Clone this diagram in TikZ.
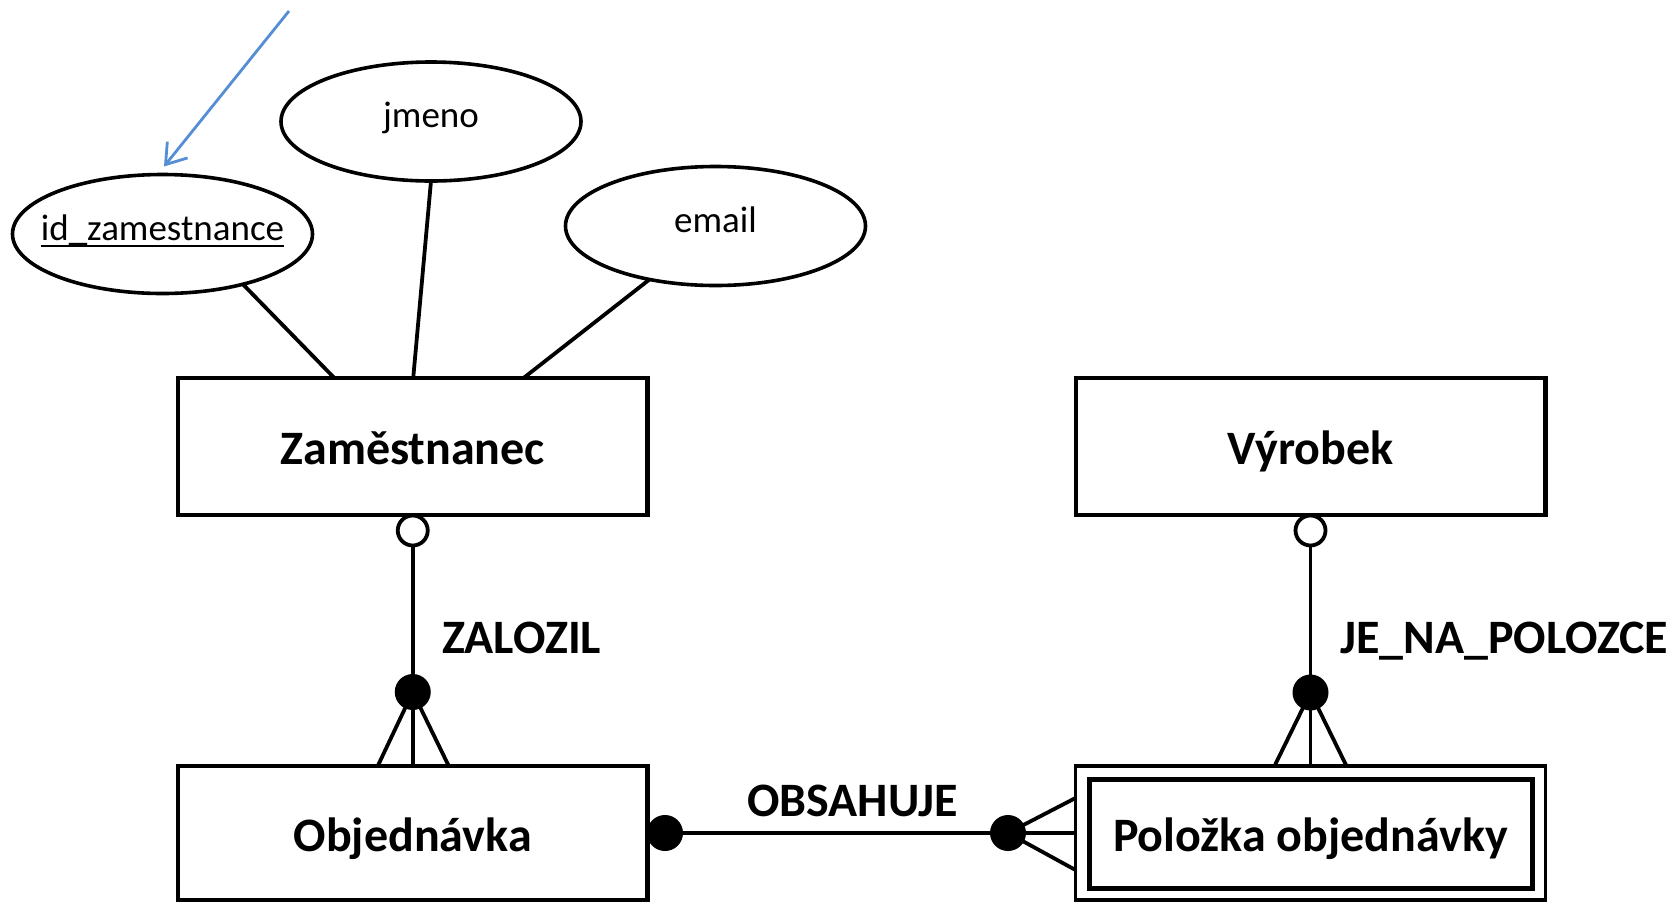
\documentclass[tikz,border=0pt]{standalone}
\usepackage{fontspec}
\setmainfont{Carlito}
\usetikzlibrary{shapes.geometric,arrows.meta,calc}
\definecolor{arrowblue}{RGB}{85,142,213}
\newcommand\ulattr[1]{\setbox0\hbox{#1}\rlap{\rule[-7pt]{\wd0}{2pt}}\box0}
\begin{document}
\begin{tikzpicture}[x=1pt,y=-1pt,
  entity/.style={draw,line width=4.5pt,rectangle,minimum width=469.5pt,minimum height=137pt,inner sep=0pt,outer sep=0pt,font=\fontsize{48}{56}\selectfont\bfseries,text height=36pt,text depth=0pt},
  attr/.style={draw,line width=3.6pt,ellipse,minimum width=300pt,minimum height=119pt,inner sep=0pt,outer sep=0pt,font=\fontsize{37}{44}\selectfont,text height=12pt,text depth=0pt},
  rel/.style={line width=3.8pt},
  rlabel/.style={font=\fontsize{48}{56}\selectfont\bfseries,anchor=base west,inner sep=0pt},
  opencirc/.style={circle,draw,line width=3.8pt,fill=white,minimum size=30pt,inner sep=0pt},
  fullcirc/.style={circle,fill=black,minimum size=36pt,inner sep=0pt},
]
\useasboundingbox (0,0) rectangle (1678,903);

% entities
\node[entity] (zam) at (412.75,446.5) {Zaměstnanec};
\node[entity] (vyr) at (1310.5,446.5) {Výrobek};
\node[entity,minimum height=134pt] (obj) at (412.75,833) {Objednávka};
\node[entity,minimum width=470pt,minimum height=134pt,line width=3.8pt] (pol) at (1310.5,833) {Položka objednávky};
\draw[line width=5pt] ($(pol.north west)+(13.5,13)$) rectangle ($(pol.south east)+(-13,-12)$);

% attributes
\node[attr] (id) at (162.5,234) {\makebox[0pt]{\ulattr{id\_zamestnance}}};
\node[attr] (jm) at (431,121.5) {\makebox[0pt]{jmeno}};
\node[attr] (em) at (715.5,226) {\makebox[0pt]{email}};

\draw[rel] (id.-32.7) -- ($(zam.north west)!0.333!(zam.north east)$);
\draw[rel] (jm.south) -- ($(zam.north west)!0.501!(zam.north east)$);
\draw[rel] (em.219.4) -- ($(zam.north west)!0.736!(zam.north east)$);

% blue arrow
\coordinate (arrstart) at (289,11);
\draw[arrowblue,line width=2.8pt,-{Straight Barb[length=19pt,width=26pt]}] (arrstart) -- ($(id.north)+(1.5,-8)$);

% ZALOZIL
\draw[rel] (zam.south) -- (obj.north);
\node[fullcirc] (f1) at ($(obj.north)+(0,-74)$) {};
\draw[rel] (f1.center) -- ($(obj.north)+(-35,0)$);
\draw[rel] (f1.center) -- ($(obj.north)+(36,0)$);
\node[opencirc] (o1) at ($(zam.south)+(0,15.5)$) {};

% JE_NA_POLOZCE
\draw[rel] (vyr.south) -- (pol.north);
\node[fullcirc] (f2) at ($(pol.north)+(0,-73.5)$) {};
\draw[rel] (f2.center) -- ($(pol.north)+(-36,0)$);
\draw[rel] (f2.center) -- ($(pol.north)+(36,0)$);
\node[opencirc] (o2) at ($(vyr.south)+(0,15.5)$) {};

% OBSAHUJE
\draw[rel] (obj.east) -- (pol.west);
\node[fullcirc] (f3) at ($(obj.east)+(17.5,0)$) {};
\node[fullcirc] (f4) at ($(pol.west)+(-67.5,0)$) {};
\draw[rel] (f4.center) -- ($(pol.west)+(0,-35)$);
\draw[rel] (f4.center) -- ($(pol.west)+(0,37)$);

% labels
\node[rlabel] (lz) at (442,653) {ZALOZIL};
\node[rlabel] (lj) at (1340,653) {JE\_NA\_POLOZCE};
\node[rlabel] (lo) at (747,816.5) {OBSAHUJE};
\end{tikzpicture}
\end{document}
